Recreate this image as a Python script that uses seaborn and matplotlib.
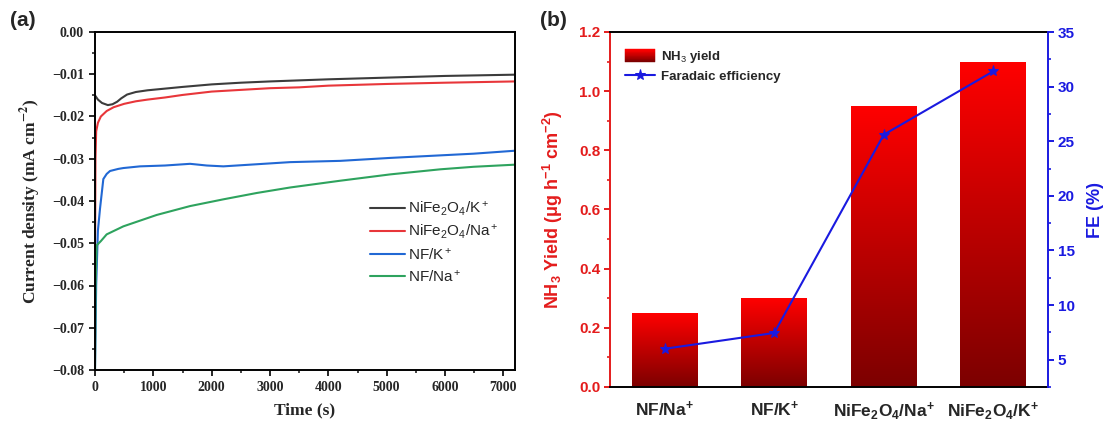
import numpy as np
import pandas as pd
import matplotlib
matplotlib.use("Agg")
import matplotlib.pyplot as plt
import seaborn as sns
from matplotlib.colors import LinearSegmentedColormap
from matplotlib.legend_handler import HandlerBase
from matplotlib.patches import Rectangle
from matplotlib.ticker import MultipleLocator, FormatStrFormatter, FuncFormatter

# ---------------- data: chronoamperometry (panel a) ----------------
series_names = ["NiFe$_2$O$_4$/K$^+$", "NiFe$_2$O$_4$/Na$^+$", "NF/K$^+$", "NF/Na$^+$"]

t_nife_k = [0, 50, 120, 220, 300, 380, 450, 550, 700, 900, 1200, 1500, 2000,
            2500, 3000, 4000, 5000, 6000, 7200]
j_nife_k = [-0.0150, -0.0160, -0.0168, -0.0173, -0.0171, -0.0165, -0.0157, -0.0148,
            -0.0142, -0.0138, -0.0134, -0.0130, -0.0124, -0.0120, -0.0117, -0.0112,
            -0.0108, -0.0104, -0.0101]

t_nife_na = [0, 8, 20, 50, 100, 200, 320, 500, 700, 900, 1200, 1500, 2000, 2500,
             3000, 3500, 4000, 5000, 6000, 7200]
j_nife_na = [-0.055, -0.030, -0.0235, -0.0215, -0.0200, -0.0187, -0.0178, -0.0170,
             -0.0164, -0.0160, -0.0155, -0.0149, -0.0141, -0.0137, -0.0133, -0.0131,
             -0.0127, -0.0123, -0.0120, -0.0117]

t_nf_k = [0, 20, 50, 86, 143, 200, 257, 400, 486, 772, 1200, 1630, 1916, 2200, 2774,
          3346, 4204, 5062, 5920, 6492, 7200]
j_nf_k = [-0.080, -0.060, -0.047, -0.0418, -0.0348, -0.0336, -0.0329, -0.0324, -0.0322,
          -0.0318, -0.0316, -0.0312, -0.0316, -0.0318, -0.0313, -0.0308, -0.0305,
          -0.0298, -0.0292, -0.0288, -0.0281]

t_nf_na = [0, 10, 29, 100, 200, 486, 1058, 1630, 2202, 2774, 3346, 4204, 5062, 5920,
           6492, 7200]
j_nf_na = [-0.080, -0.060, -0.0505, -0.0495, -0.0479, -0.0460, -0.0433, -0.0412,
           -0.0396, -0.0381, -0.0368, -0.0352, -0.0337, -0.0325, -0.0319, -0.0314]

# ---------------- data: NH3 yield and FE (panel b) ----------------
categories = ["NF/Na$^{\\mathbf{+}}$", "NF/K$^{\\mathbf{+}}$",
              "NiFe$_{\\mathbf{2}}$O$_{\\mathbf{4}}$/Na$^{\\mathbf{+}}$",
              "NiFe$_{\\mathbf{2}}$O$_{\\mathbf{4}}$/K$^{\\mathbf{+}}$"]
nh3_yield = [0.25, 0.30, 0.95, 1.10]
faradaic_eff = [6.0, 7.45, 25.6, 31.4]

# ---------------- style ----------------
sns.set_style("ticks")
plt.rcParams.update({
    "font.family": ["Liberation Sans", "DejaVu Sans"],
    "mathtext.fontset": "custom",
    "mathtext.rm": "Liberation Sans",
    "mathtext.bf": "Liberation Sans:bold",
    "mathtext.it": "Liberation Sans:italic",
    "axes.unicode_minus": True,
    "axes.linewidth": 1.4,
})

RED = "#e41c1c"
BLUE = "#1a1ae0"
line_colors = {series_names[0]: "#3c3c3c", series_names[1]: "#e8363a",
               series_names[2]: "#2168d4", series_names[3]: "#2ea35e"}

fig = plt.figure(figsize=(11.05, 4.25), dpi=100)
W, H = 1105, 425
axa = fig.add_axes([95 / W, 1 - 370 / H, 420 / W, 338 / H])
axb = fig.add_axes([610 / W, 1 - 387 / H, 438 / W, 355 / H])

# ---------------- panel a ----------------
frames = []
for name, t, j in zip(series_names,
                      [t_nife_k, t_nife_na, t_nf_k, t_nf_na],
                      [j_nife_k, j_nife_na, j_nf_k, j_nf_na]):
    frames.append(pd.DataFrame({"Time": t, "Current": j, "Sample": name}))
df = pd.concat(frames, ignore_index=True)

sns.lineplot(data=df, x="Time", y="Current", hue="Sample", hue_order=series_names,
             palette=line_colors, estimator=None, sort=False, lw=1.5, ax=axa)

axa.set_xlim(0, 7200)
axa.set_ylim(-0.08, 0.0)
axa.xaxis.set_major_locator(MultipleLocator(1000))
axa.xaxis.set_minor_locator(MultipleLocator(500))
axa.yaxis.set_major_locator(MultipleLocator(0.01))
axa.yaxis.set_minor_locator(MultipleLocator(0.005))
axa.yaxis.set_major_formatter(
    FuncFormatter(lambda v, _: f"{v:.2f}".replace("-", "\u2212")))
axa.tick_params(which="major", direction="out", length=4, width=1.4, pad=4,
                labelsize=10, top=False, right=False)
axa.tick_params(which="minor", direction="out", length=2.5, width=1.2,
                top=False, right=False)
plt.setp(axa.get_xticklabels() + axa.get_yticklabels(),
         fontfamily="Liberation Serif", fontweight="bold")
axa.set_xlabel("Time (s)", fontfamily="Liberation Serif", fontweight="bold",
              fontsize=12.5, labelpad=6)
axa.set_ylabel("Current density (mA cm$^{\\mathbf{-2}}$)", fontfamily="Liberation Serif",
              fontweight="bold", fontsize=12.5, math_fontfamily="stix", labelpad=6)
for s in axa.spines.values():
    s.set_color("black")
    s.set_linewidth(1.4)

handles, labels = axa.get_legend_handles_labels()
axa.legend(handles, labels, loc="upper left", bbox_to_anchor=(0.655, 0.505),
           frameon=False, fontsize=11, handlelength=2.3, handletextpad=0.2,
           labelspacing=0.35, borderaxespad=0, borderpad=0)

# ---------------- panel b ----------------
bar_cmap = LinearSegmentedColormap.from_list("bar_grad", ["#7c0000", "#ff0000"])

sns.barplot(x=categories, y=nh3_yield, ax=axb, width=0.6, color="red",
            saturation=1, linewidth=0)
grad = np.linspace(0, 1, 256).reshape(-1, 1)
for p in axb.patches:
    x0, w, h = p.get_x(), p.get_width(), p.get_height()
    im = axb.imshow(grad, extent=[x0, x0 + w, 0, h], origin="lower", aspect="auto",
                    cmap=bar_cmap, zorder=p.get_zorder(), interpolation="bilinear")
    im.set_clip_path(p)
    p.set_facecolor("none")

axb.set_xlim(-0.5, 3.5)
axb.set_ylim(0, 1.2)
axb.yaxis.set_major_locator(MultipleLocator(0.2))
axb.yaxis.set_minor_locator(MultipleLocator(0.1))
axb.yaxis.set_major_formatter(FormatStrFormatter("%.1f"))
axb.tick_params(axis="y", which="major", direction="out", length=4, width=1.4,
                colors=RED, labelsize=11, pad=3)
axb.tick_params(axis="y", which="minor", direction="out", length=2.5, width=1.2,
                colors=RED)
axb.tick_params(axis="x", length=0, labelsize=12.5, pad=9)
plt.setp(axb.get_yticklabels(), fontweight="bold")
plt.setp(axb.get_xticklabels(), fontweight="bold")
axb.set_xlabel("")
axb.set_ylabel("NH$_{\\mathbf{3}}$ Yield (\u03bcg h$^{\\mathbf{-1}}$ cm$^{\\mathbf{-2}}$)",
               color=RED, fontweight="bold", fontsize=13, labelpad=10)
axb.spines["left"].set_color(RED)
axb.spines["right"].set_visible(False)
axb.spines["top"].set_color("black")
axb.spines["bottom"].set_color("black")

ax2 = axb.twinx()
sns.lineplot(x=np.arange(len(categories)), y=faradaic_eff, ax=ax2, color=BLUE,
             marker="*", markersize=8, markeredgecolor=BLUE, lw=1.5,
             label="Faradaic efficiency", legend=False)
ax2.set_ylim(2.5, 35)
ax2.yaxis.set_major_locator(MultipleLocator(5))
ax2.yaxis.set_minor_locator(MultipleLocator(2.5))
ax2.tick_params(axis="y", which="major", direction="out", length=4, width=1.4,
                colors=BLUE, labelsize=11, pad=3)
ax2.tick_params(axis="y", which="minor", direction="out", length=2.5, width=1.2,
                colors=BLUE)
plt.setp(ax2.get_yticklabels(), fontweight="bold")
ax2.set_ylabel("FE (%)", color=BLUE, fontweight="bold", fontsize=13, labelpad=9)
ax2.spines["right"].set_color(BLUE)
ax2.spines["right"].set_linewidth(1.4)
ax2.spines["left"].set_visible(False)
ax2.spines["top"].set_visible(False)
ax2.spines["bottom"].set_visible(False)


class GradientPatchHandler(HandlerBase):
    """Legend key drawn as a vertical dark-to-bright red gradient."""

    def create_artists(self, legend, orig_handle, xdescent, ydescent, width, height,
                       fontsize, trans):
        n = 16
        artists = []
        for i in range(n):
            c = bar_cmap(i / (n - 1))
            r = Rectangle((-xdescent, -ydescent + i * height / n), width, height / n,
                          facecolor=c, edgecolor=c, lw=0.3, transform=trans)
            artists.append(r)
        return artists


bar_key = Rectangle((0, 0), 1, 1)
fe_handle = ax2.get_lines()[0]
ax2.legend([bar_key, fe_handle], ["NH$_3$ yield", "Faradaic efficiency"],
           handler_map={Rectangle: GradientPatchHandler()},
           loc="upper left", bbox_to_anchor=(0.034, 0.952), frameon=False,
           prop={"weight": "bold", "size": 9.5}, handlelength=2.3, handleheight=1.05,
           handletextpad=0.4, labelspacing=0.35, borderaxespad=0, borderpad=0)

# panel letters
fig.text(10 / W, 1 - 20 / H, "(a)", fontsize=15, fontweight="bold", va="center")
fig.text(540 / W, 1 - 20 / H, "(b)", fontsize=15, fontweight="bold", va="center")

fig.savefig("out.png", dpi=100)
